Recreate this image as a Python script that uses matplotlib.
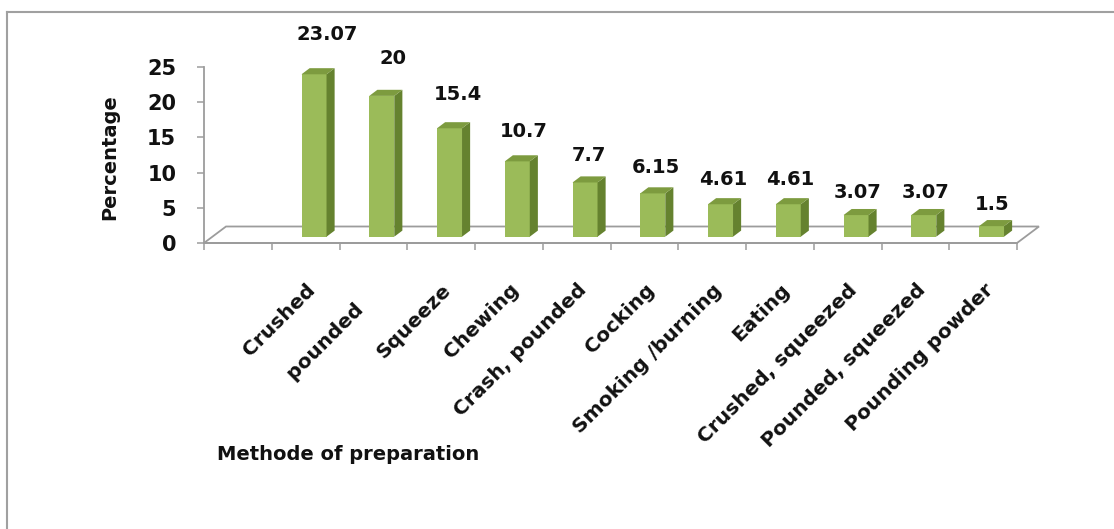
import matplotlib
matplotlib.use("Agg")
import matplotlib.pyplot as plt
from matplotlib.patches import Polygon
from matplotlib.lines import Line2D
import numpy as np

methods = ['Crushed', 'pounded    ', 'Squeeze', 'Chewing', 'Crash, pounded', 'Cocking',
           'Smoking /burning', 'Eating', 'Crushed, squeezed', 'Pounded, squeezed',
           'Pounding powder']
percent = [23.07, 20, 15.4, 10.7, 7.7, 6.15, 4.61, 4.61, 3.07, 3.07, 1.5]

FRONT = '#9bbb59'
SIDE = '#65822f'
TOP = '#7d9b3f'
GRID = '#9c9c9c'

plt.rcParams['font.family'] = ['DejaVu Sans']
plt.rcParams['font.weight'] = 'bold'

W, H = 1114, 529
fig = plt.figure(figsize=(W / 100, H / 100), dpi=100)
ax = fig.add_axes([204 / W, 286 / H, 813 / W, 176 / H])

# first slot on the category axis is left empty
x = np.arange(1, len(percent) + 1)
ax.set_xlim(-0.5, 11.5)
ax.set_ylim(0, 25)

# pixel -> data scale
px_x = 813 / 12
px_y = 176 / 25

# floor of the 3d box
fdx, fdy = 22 / px_x, 16.5 / px_y
floor = Polygon([(-0.5, 0), (11.5, 0), (11.5 + fdx, fdy), (-0.5 + fdx, fdy)],
                closed=True, facecolor='white', edgecolor=GRID, lw=1.3,
                clip_on=False, zorder=1)
ax.add_patch(floor)

# bars: front face from ax.bar, side and top faces as polygons
bw = 25 / px_x
off_x, off_y = 8.4 / px_x, 6.3 / px_y
ddx, ddy = 8.1 / px_x, 6.1 / px_y
bars = ax.bar(x + off_x, percent, width=bw, bottom=off_y, color=FRONT,
              zorder=3, clip_on=False)
for b in bars:
    x0 = b.get_x()
    x1 = x0 + b.get_width()
    y0 = b.get_y()
    y1 = y0 + b.get_height()
    side = Polygon([(x1, y0), (x1 + ddx, y0 + ddy), (x1 + ddx, y1 + ddy), (x1, y1)],
                   closed=True, facecolor=SIDE, edgecolor='none', zorder=3,
                   clip_on=False)
    top = Polygon([(x0, y1), (x1, y1), (x1 + ddx, y1 + ddy), (x0 + ddx, y1 + ddy)],
                  closed=True, facecolor=TOP, edgecolor='none', zorder=3,
                  clip_on=False)
    ax.add_patch(side)
    ax.add_patch(top)

# value labels
for xi, v in zip(x, percent):
    ax.text(xi + (8 + 0.6 * v) / px_x, 1.12 * v + 3.8, f'{v:g}',
            ha='center', va='center', fontsize=14, color='#111111', clip_on=False)

# category labels, rotated
for xi, name in zip(x, methods):
    ax.annotate(name, xy=(xi, 0), xytext=(7, -44), textcoords='offset pixels',
                rotation=45, ha='right', va='center', rotation_mode='anchor',
                fontsize=14.5, color='#111111', annotation_clip=False)

ax.set_xticks(np.arange(-0.5, 12, 1))
ax.set_xticklabels([])
ax.set_yticks(np.arange(0, 26, 5))
ax.tick_params(axis='x', direction='out', length=5, width=1.1, color=GRID)
ax.tick_params(axis='y', direction='out', length=5, width=1.1, color=GRID,
               labelsize=15, pad=15, labelcolor='#111111')
for lab in ax.get_yticklabels():
    lab.set_fontweight('bold')

for s in ['top', 'right']:
    ax.spines[s].set_visible(False)
for s in ['left', 'bottom']:
    ax.spines[s].set_color(GRID)
    ax.spines[s].set_linewidth(1.3)
    ax.spines[s].set_zorder(2)
ax.patch.set_alpha(0)

fig.text(110 / W, 1 - 157 / H, 'Percentage', rotation=90, ha='center', va='center',
         fontsize=14, color='#111111')
fig.text(217 / W, 1 - 455 / H, 'Methode of preparation', ha='left', va='center',
         fontsize=14, color='#111111')

# chart area border
fig.add_artist(Line2D([7 / W, 7 / W], [0, 1 - 12 / H], color='#a0a0a0', lw=1.5))
fig.add_artist(Line2D([7 / W, 1], [1 - 12 / H, 1 - 12 / H], color='#a0a0a0', lw=1.5))

fig.savefig('out.png', dpi=100, facecolor='white')
